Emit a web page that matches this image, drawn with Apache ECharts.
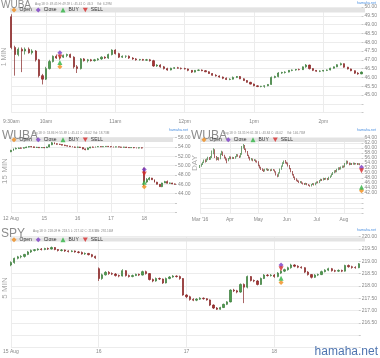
<!DOCTYPE html>
<html><head><meta charset="utf-8">
<script src="https://cdn.jsdelivr.net/npm/echarts@6/dist/echarts.min.js"></script>
<style>html,body{margin:0;padding:0;background:#fff}#c{width:380px;height:358px}</style>
</head><body><div id="c"></div>
<script>
// ---------- DATA ----------
// candle tuples: [open, close, low, high]
// Panel 1: WUBA 1-minute view, Aug 18 (drawn as 3-min candles from 9:30)
const p1Bars = [
[49.45,47.7,47.6,49.59],[47.7,47.3,46.1,47.8],[47.3,47.6,47.2,47.7],[47.6,47.5,46.3,47.7],[47.5,47.6,47.3,47.7],
[47.6,47.4,47.35,47.7],[47.4,47.5,47.3,47.6],[47.5,47.0,46.9,47.55],[47.0,46.1,46.0,47.05],[46.1,45.9,45.6,46.2],
[45.9,46.5,45.85,46.6],[46.5,46.9,46.45,47.0],[46.9,47.2,46.85,47.25],[47.2,47.1,47.05,47.3],[47.1,47.15,47.0,47.25],
[47.15,47.25,47.1,47.3],[47.25,47.3,47.15,47.35],[47.3,47.15,47.1,47.35],[47.15,46.6,46.5,47.2],[46.6,46.5,46.25,46.7],
[46.5,47.05,46.45,47.1],[47.05,46.95,46.9,47.1],[46.95,47.0,46.85,47.05],[47.0,46.95,46.9,47.05],[46.95,47.0,46.9,47.05],
[47.0,47.05,46.95,47.1],[47.05,47.15,47.0,47.2],[47.15,47.1,47.05,47.2],[47.1,47.3,47.05,47.35],[47.3,47.55,47.25,47.6],
[47.55,47.35,47.3,47.6],[47.35,47.15,47.1,47.4],[47.15,47.2,47.1,47.25],[47.2,47.2,47.1,47.25],[47.2,47.1,47.05,47.25],
[47.1,47.05,47.0,47.15],[47.05,47.0,46.95,47.1],[47.0,47.02,46.95,47.05],[47.02,46.98,46.95,47.05],[46.98,47.0,46.95,47.05],
[47.0,46.95,46.9,47.05],[46.95,46.65,46.6,47.0],[46.65,46.7,46.6,46.75],[46.7,46.6,46.55,46.75],[46.6,46.5,46.45,46.65],
[46.5,46.42,46.38,46.55],[46.42,46.52,46.4,46.55],[46.52,46.55,46.48,46.58],[46.55,46.52,46.5,46.6],[46.52,46.5,46.45,46.56],
[46.5,46.48,46.45,46.55],[46.48,46.4,46.35,46.5],[46.4,46.3,46.25,46.42],[46.3,46.4,46.28,46.42],[46.4,46.42,46.36,46.45],
[46.42,46.38,46.35,46.45],[46.38,46.32,46.3,46.42],[46.32,46.22,46.2,46.35],[46.22,46.12,46.1,46.25],[46.12,46.08,46.05,46.18],
[46.08,46.02,45.98,46.12],[46.02,45.95,45.9,46.05],[45.95,45.88,45.85,46.0],[45.88,45.9,45.84,45.95],[45.9,46.0,45.88,46.05],
[46.0,46.05,45.96,46.08],[46.05,45.92,45.9,46.08],[45.92,45.82,45.8,45.95],[45.82,45.72,45.7,45.85],[45.72,45.62,45.6,45.75],
[45.62,45.52,45.5,45.65],[45.52,45.48,45.45,45.55],[45.48,45.5,45.44,45.52],[45.5,45.52,45.41,45.55],[45.52,45.6,45.5,45.62],
[45.6,46.0,45.58,46.05],[46.0,46.05,45.95,46.1],[46.05,46.25,46.0,46.3],[46.25,46.28,46.2,46.32],[46.28,46.3,46.22,46.35],
[46.3,46.4,46.28,46.42],[46.4,46.42,46.35,46.45],[46.42,46.45,46.38,46.48],[46.45,46.44,46.4,46.5],[46.44,46.6,46.42,46.62],
[46.6,46.7,46.55,46.76],[46.7,46.5,46.45,46.72],[46.5,46.4,46.36,46.52],[46.4,46.35,46.32,46.42],[46.35,46.36,46.3,46.4],
[46.36,46.4,46.33,46.42],[46.4,46.42,46.36,46.45],[46.42,46.52,46.4,46.55],[46.52,46.6,46.5,46.62],[46.6,46.72,46.58,46.75],
[46.72,46.78,46.68,46.84],[46.78,46.58,46.55,46.8],[46.58,46.48,46.45,46.6],[46.48,46.38,46.35,46.5],[46.38,46.24,46.2,46.4],
[46.24,46.2,46.15,46.3],[46.2,46.3,46.18,46.34]
];
const p1Ticks = [['09:30','9:30am'],['10:00','10am'],['11:00','11am'],['12:00','12pm'],['13:00','1pm'],['14:00','2pm']];
const p1MarkAt = '10:12';
const p1MarkVals = [46.6, 47.4, 46.84, 47.16]; // Open, Close, BUY, SELL

// Panel 2: WUBA 15-minute view, Aug 12-18 (drawn as 30-min candles)
const p2Days = ['08-12','08-15','08-16','08-17','08-18'];
const p2Bars = [
[53.0,53.3,52.9,53.4],[53.3,53.6,53.2,53.7],[53.6,53.7,53.5,53.9],[53.7,53.8,53.6,53.9],[53.8,53.75,53.65,53.9],
[53.75,53.85,53.7,53.95],[53.85,54.0,53.8,54.1],[54.0,54.1,53.9,54.2],[54.1,54.05,53.95,54.2],[54.05,53.9,53.85,54.1],
[53.9,53.95,53.8,54.05],[53.95,53.85,53.8,54.0],[53.85,53.9,53.8,54.0],
[53.9,53.85,53.75,54.0],[53.85,54.0,53.8,54.1],[54.0,54.5,53.95,54.6],[54.5,54.9,54.4,55.1],[54.9,54.7,54.6,55.0],
[54.7,54.6,54.5,54.8],[54.6,54.55,54.45,54.7],[54.55,54.4,54.35,54.6],[54.4,54.3,54.2,54.5],[54.3,54.2,54.1,54.35],
[54.2,54.1,54.0,54.25],[54.1,54.0,53.95,54.15],[54.0,53.95,53.85,54.1],
[53.95,54.0,53.85,54.1],[54.0,53.9,53.8,54.05],[53.9,53.6,53.5,53.95],[53.6,53.45,53.3,53.7],[53.45,53.8,53.4,53.9],
[53.8,54.0,53.75,54.05],[54.0,53.95,53.9,54.1],[53.95,54.05,53.9,54.1],[54.05,54.1,54.0,54.2],[54.1,54.05,54.0,54.15],
[54.05,54.1,54.0,54.15],[54.1,54.15,54.05,54.2],[54.15,54.1,54.0,54.2],
[54.1,54.05,53.95,54.15],[54.05,54.0,53.9,54.1],[54.0,54.05,53.95,54.1],[54.05,54.0,53.95,54.1],[54.0,53.95,53.9,54.05],
[53.95,54.0,53.9,54.05],[54.0,53.9,53.85,54.05],[53.9,53.85,53.8,53.95],[53.85,53.9,53.8,53.95],[53.9,53.85,53.75,53.95],
[53.85,53.8,53.7,53.9],[53.8,53.85,53.7,53.9],[53.85,53.8,53.7,53.9],
[49.45,46.5,45.6,49.59],[46.5,47.05,46.25,47.35],[47.05,47.35,46.85,47.6],[47.35,47.0,46.95,47.4],[47.0,46.48,46.4,47.05],
[46.48,46.02,45.98,46.55],[46.02,45.52,45.5,46.08],[45.52,46.3,45.41,46.35],[46.3,46.6,46.28,46.76],[46.6,46.24,46.2,46.84],
[46.24,46.3,46.1,46.4],[46.3,46.1,46.05,46.35],[46.1,46.02,45.95,46.2]
];
const p2Ticks = [['08-12 09:30','12 Aug'],['08-15 09:30','15'],['08-16 09:30','16'],['08-17 09:30','17'],['08-18 09:30','18']];
const p2MarkAt = '08-18 09:30';
const p2MarkVals = [45.5, 49.2, 46.45, 48.2];

// Panel 3: WUBA daily, Mar 1 - Aug 18 2016
const p3Start = '2016-03-01', p3End = '2016-08-18';
const p3Holidays = ['2016-03-25','2016-05-30','2016-07-04'];
const p3Bars = [
[52.5,52.8,52.0,53.2],[52.8,53.5,52.5,53.8],[53.5,54.2,53.2,54.5],[54.2,55.0,54.0,55.4],[55.0,54.6,54.2,55.5],
[54.6,55.5,54.4,55.8],[55.5,56.0,55.1,56.5],[56.0,55.6,55.2,56.4],[55.6,56.2,55.3,56.8],[56.2,58.6,56.0,59.0],
[58.6,59.3,57.5,59.9],[59.3,56.5,56.0,59.5],[56.5,55.5,55.0,56.8],[55.5,56.0,55.2,56.4],[56.0,55.6,55.0,56.3],
[55.6,57.5,55.5,57.8],[57.5,58.4,57.2,58.9],[58.4,57.0,56.8,58.6],[57.0,56.2,55.8,57.3],[56.2,55.5,55.0,56.5],
[55.5,55.0,53.9,55.8],[55.0,55.8,54.7,56.0],[55.8,56.3,55.5,56.7],[56.3,55.8,55.5,56.6],[55.8,56.2,55.6,56.5],
[56.2,55.9,55.6,56.4],[55.9,56.5,55.7,56.8],[56.5,57.3,56.3,57.6],[57.3,56.8,56.5,57.5],[56.8,56.3,56.0,57.0],
[56.3,57.5,56.2,58.0],[57.5,60.5,57.3,60.8],[60.5,61.0,59.8,61.58],[61.0,59.5,59.2,61.2],[59.5,58.6,58.2,59.8],
[58.6,57.0,56.8,58.8],[57.0,56.2,55.8,57.3],[56.2,55.3,55.0,56.5],[55.3,55.6,55.0,56.0],[55.6,55.0,54.7,55.8],
[55.0,55.2,54.8,55.6],[55.2,54.6,54.3,55.4],[54.6,54.5,54.1,55.0],[54.5,53.0,52.7,54.7],[53.0,52.2,51.8,53.3],
[52.2,51.6,51.2,52.5],[51.6,51.2,50.8,51.9],[51.2,50.8,50.4,51.5],[50.8,51.4,50.6,51.7],[51.4,51.5,51.1,51.9],
[51.5,51.1,50.8,51.8],[51.1,51.3,50.9,51.6],[51.3,51.0,50.7,51.5],[51.0,51.4,50.8,51.7],[51.4,51.2,50.9,51.6],
[51.2,50.5,50.2,51.4],[50.5,49.3,49.0,50.7],[49.3,48.7,48.3,49.5],[48.7,50.0,48.5,50.3],[50.0,51.5,49.8,51.8],
[51.5,52.7,51.3,53.0],[52.7,54.0,52.5,54.3],[54.0,54.6,53.6,55.0],[54.6,54.2,53.8,55.2],[54.2,54.0,53.5,54.5],
[54.0,53.0,52.6,54.2],[53.0,51.8,51.5,53.2],[51.8,50.6,50.3,52.0],[50.6,49.4,49.0,50.8],[49.4,48.3,48.0,49.6],
[48.3,47.6,47.2,48.6],[47.6,47.0,46.7,47.9],[47.0,46.8,46.4,47.3],[46.8,46.3,46.0,47.0],[46.3,46.5,46.0,46.8],
[46.5,46.0,45.7,46.7],[46.0,45.8,45.4,46.2],[45.8,45.6,45.2,46.0],[45.6,45.9,45.3,46.1],[45.9,45.4,45.1,46.0],
[45.4,45.1,44.8,45.6],[45.1,44.8,44.5,45.3],[44.8,45.4,44.6,45.6],[45.4,45.7,45.2,46.0],[45.7,45.3,45.0,45.9],
[45.3,45.9,45.1,46.2],[45.9,46.4,45.7,46.6],[46.4,46.2,45.9,46.7],[46.2,46.9,46.0,47.2],[46.9,47.4,46.7,47.7],
[47.4,47.1,46.8,47.6],[47.1,47.8,47.0,48.1],[47.8,47.5,47.2,48.0],[47.5,47.8,47.3,48.1],[47.8,47.4,47.1,48.0],
[47.4,48.2,47.2,48.5],[48.2,48.7,48.0,49.0],[48.7,49.5,48.5,49.8],[49.5,50.1,49.2,50.4],[50.1,50.8,49.9,51.1],
[50.8,50.5,50.2,51.2],[50.5,51.4,50.3,51.7],[51.4,52.0,51.1,52.3],[52.0,51.6,51.3,52.3],[51.6,52.3,51.4,52.6],
[52.3,52.7,52.0,53.0],[52.7,52.4,52.1,53.0],[52.4,53.6,52.3,54.0],[53.6,54.7,53.4,55.0],[54.7,54.0,53.7,54.9],
[54.0,53.4,53.1,54.2],[53.4,53.8,53.2,54.1],[53.8,53.5,53.2,54.0],[53.5,53.9,53.3,54.2],[53.9,53.6,53.3,54.1],
[53.6,53.8,53.4,54.0],[53.8,53.5,53.2,54.0],[53.5,53.7,53.3,53.9],[53.7,53.35,53.1,53.9],[51.3,46.02,43.84,51.6]
];
const p3Ticks = [['2016-03-01',"Mar '16"],['2016-04-01','Apr'],['2016-05-02','May'],['2016-06-01','Jun'],['2016-07-01','Jul'],['2016-08-01','Aug']];
const p3MarkAt = '2016-08-18';
const p3MarkVals = [42.9, 52.3, 44.3, 50.9];

// Panel 4: SPY 5-minute view, Aug 15-18 (drawn as 15-min candles)
const p4Days = ['08-15','08-16','08-17','08-18'];
const p4Bars = [
[218.85,218.95,218.8,219.0],[218.95,219.12,218.9,219.15],[219.12,219.18,219.08,219.22],[219.18,219.2,219.12,219.25],[219.2,219.28,219.15,219.3],
[219.28,219.38,219.25,219.42],[219.38,219.44,219.34,219.48],[219.44,219.47,219.4,219.5],[219.47,219.5,219.43,219.53],[219.5,219.48,219.44,219.54],
[219.48,219.52,219.45,219.55],[219.52,219.5,219.46,219.56],[219.5,219.56,219.48,219.6],[219.56,219.48,219.45,219.58],[219.48,219.44,219.4,219.5],
[219.44,219.46,219.4,219.5],[219.46,219.42,219.38,219.48],[219.42,219.4,219.36,219.45],[219.4,219.42,219.37,219.45],[219.42,219.38,219.35,219.44],
[219.38,219.36,219.32,219.42],[219.36,219.3,219.27,219.4],[219.3,219.32,219.26,219.36],[219.32,219.27,219.24,219.34],[219.27,219.2,219.16,219.3],
[219.2,219.14,219.1,219.23],
[218.7,218.3,218.2,218.75],[218.3,218.45,218.25,218.5],[218.45,218.55,218.42,218.6],[218.55,218.5,218.45,218.6],[218.5,218.48,218.44,218.55],
[218.48,218.42,218.38,218.52],[218.42,218.4,218.35,218.46],[218.4,218.62,218.38,218.68],[218.62,218.42,218.38,218.64],[218.42,218.38,218.34,218.46],
[218.38,218.42,218.35,218.46],[218.42,218.47,218.4,218.5],[218.47,218.44,218.4,218.5],[218.44,218.58,218.42,218.62],[218.58,218.5,218.46,218.62],
[218.5,218.26,218.22,218.52],[218.26,218.2,218.15,218.3],[218.2,218.3,218.17,218.34],[218.3,218.28,218.24,218.34],[218.28,218.12,218.08,218.3],
[218.12,218.3,218.1,218.34],[218.3,218.36,218.27,218.4],[218.36,218.4,218.33,218.44],[218.4,218.38,218.34,218.43],[218.38,218.3,218.25,218.42],
[218.3,217.63,217.6,218.32],
[217.63,217.56,217.5,217.66],[217.56,217.45,217.4,217.6],[217.45,217.42,217.38,217.5],[217.42,217.46,217.38,217.5],[217.46,217.5,217.43,217.54],
[217.5,217.48,217.44,217.53],[217.48,217.43,217.4,217.5],[217.43,217.22,217.18,217.45],[217.22,217.1,217.06,217.25],[217.1,217.05,217.02,217.14],
[217.05,217.12,217.03,217.15],[217.12,217.25,217.1,217.28],[217.25,217.35,217.22,217.38],[217.35,217.83,217.33,217.86],[217.83,217.8,217.75,217.88],
[217.8,217.75,217.7,217.84],[217.75,218.06,217.72,218.1],[218.06,217.95,217.3,218.1],[217.95,218.38,217.9,218.42],[218.38,218.22,218.18,218.4],
[218.22,218.2,218.15,218.26],[218.2,218.06,218.02,218.24],[218.06,218.3,218.04,218.34],[218.3,218.44,218.28,218.48],[218.44,218.42,218.38,218.48],
[218.42,218.44,218.38,218.48],
[218.44,218.38,218.33,218.48],[218.38,218.52,218.35,218.56],[218.52,218.6,218.48,218.64],[218.6,218.66,218.56,218.7],[218.66,218.74,218.62,218.78],
[218.74,218.85,218.7,218.9],[218.85,218.8,218.76,218.88],[218.8,218.76,218.72,218.84],[218.76,218.74,218.7,218.8],[218.74,218.56,218.52,218.76],
[218.56,218.46,218.42,218.6],[218.46,218.35,218.3,218.48],[218.35,218.44,218.32,218.48],[218.44,218.46,218.4,218.5],[218.46,218.58,218.44,218.62],
[218.58,218.64,218.55,218.68],[218.64,218.7,218.6,218.74],[218.7,218.62,218.58,218.73],[218.62,218.6,218.56,218.66],[218.6,218.63,218.57,218.67],
[218.63,218.6,218.56,218.66],[218.6,218.83,218.58,218.86],[218.83,218.78,218.74,218.87],[218.78,218.75,218.7,218.82],[218.75,218.74,218.7,218.8],
[218.74,218.9,218.72,218.93]
];
const p4Ticks = [['08-15 09:30','15 Aug'],['08-16 09:30','16'],['08-17 09:30','17'],['08-18 09:30','18']];
const p4MarkAt = '08-18 10:00';
const p4MarkVals = [218.14, 218.85, 218.31, 218.7];

const markerNames = ['Open','Close','BUY','SELL'];
const panelTitles = ['WUBA','WUBA','WUBA','SPY'];
const panelPeriods = ['1 MIN','15 MIN','DAY','5 MIN'];
const panelInfo = [
  'Aug 18 O: 49.45 H: 49.59 L: 45.41 C: 46.3',
  'Aug 18 O: 53.86 H: 55.89 L: 45.41 C: 46.02',
  'Aug 18 O: 53.35 H: 61.58 L: 43.84 C: 46.02',
  'Aug 18 O: 218.09 H: 218.5 L: 217.02 C: 218.57'
];
const panelVol = ['Vol: 6.29M','Vol: 18.73M','Vol: 146.73M','Vol: 292.16M'];

// ---------- CATEGORY BUILDERS ----------
const pad = n => (n < 10 ? '0' : '') + n;
const hm = m => pad(Math.floor(m / 60)) + ':' + pad(m % 60);
const p1Cats = p1Bars.map((_, i) => hm(570 + 3 * i));
const p2Cats = [];
p2Days.forEach(d => { for (let s = 0; s < 13; s++) p2Cats.push(d + ' ' + hm(570 + 30 * s)); });
const p4Cats = [];
p4Days.forEach(d => { for (let s = 0; s < 26; s++) p4Cats.push(d + ' ' + hm(570 + 15 * s)); });
const p3Cats = [];
for (let t = new Date(p3Start + 'T00:00:00Z'); t <= new Date(p3End + 'T00:00:00Z'); t = new Date(t.getTime() + 86400000)) {
  const s = t.toISOString().slice(0, 10), wd = t.getUTCDay();
  if (wd !== 0 && wd !== 6 && p3Holidays.indexOf(s) < 0) p3Cats.push(s);
}

// ---------- STYLE / LAYOUT ----------
const FONT = '"Liberation Sans", Arial, sans-serif';
const markerSymbols = ['diamond','diamond','triangle','path://M0,0L10,0L5,9Z'];
const markerColors = ['#f08c1a','#7a3cc4','#2fb344','#d42a2a'];
const panels = [
  {grid:{left:10, top:7, width:355, height:105.6}, cats:p1Cats, bars:p1Bars, ticks:p1Ticks, ymin:44, ymax:50, step:0.5, showFrom:45, lm:7, bw:1.6, markAt:p1MarkAt, marks:p1MarkVals},
  {grid:{left:10, top:137.7, width:165, height:74.7}, cats:p2Cats, bars:p2Bars, ticks:p2Ticks, ymin:40, ymax:56, step:2, showFrom:44, lm:4, bw:1.4, markAt:p2MarkAt, marks:p2MarkVals},
  {grid:{left:200, top:138, width:165, height:75}, cats:p3Cats, bars:p3Bars, ticks:p3Ticks, ymin:34, ymax:64, step:2, showFrom:42, lm:4, bw:1, markAt:p3MarkAt, marks:p3MarkVals},
  {grid:{left:10, top:236.7, width:355, height:110.7}, cats:p4Cats, bars:p4Bars, ticks:p4Ticks, ymin:215.5, ymax:220, step:0.5, showFrom:216.5, lm:2, bw:1.8, markAt:p4MarkAt, marks:p4MarkVals}
];
const legendBars = [[10,8,355,4.6],[10,137.6,163,4.3],[200,137.6,165,4.3],[10,237.6,355,4]];
const titlePos = [[1,5,10],[2,136,12],[191,136,12],[1,233.5,12]];
const infoPos = [[35,4,97],[32,133,93],[223,133,287],[33,231,95]];
const netPos = [[376,3],[188,130],[376,130],[376,230]];
const periodPos = [[4,57,7],[5,171,8],[195,163,8],[5,288,8]];
const INFO_FS = 3.1;

const grid = [], xAxis = [], yAxis = [], series = [], legend = [], graphic = [];
panels.forEach((p, k) => {
  const tickMap = new Map(p.ticks);
  grid.push(Object.assign({containLabel:false}, p.grid));
  xAxis.push({
    type:'category', gridIndex:k, data:p.cats, boundaryGap:false,
    axisLine:{show:false}, axisTick:{show:false},
    axisLabel:{interval:(i, v) => tickMap.has(v), formatter:v => tickMap.get(v) || '', fontSize:5, color:'#888', margin:p.lm, fontFamily:FONT},
    splitLine:{show:true, interval:(i, v) => tickMap.has(v), lineStyle:{color:'#ececec', width:1}}
  });
  yAxis.push({
    type:'value', gridIndex:k, position:'right', min:p.ymin, max:p.ymax, interval:p.step,
    axisLine:{show:false}, axisTick:{show:true, length:2, lineStyle:{color:'#c8c8c8'}},
    axisLabel:{fontSize:5, color:'#888', margin:3, fontFamily:FONT,
      formatter:v => (v < p.showFrom - 1e-6 ? '' : v.toFixed(2))},
    splitLine:{show:true, lineStyle:{color:'#ececec', width:1}}
  });
  series.push({
    type:'candlestick', name:'price' + k, xAxisIndex:k, yAxisIndex:k, data:p.bars, barWidth:p.bw,
    itemStyle:{color:'#4e9e4e', color0:'#a83232', borderColor:'#3a7a3a', borderColor0:'#842424', borderWidth:0.7},
    z:2
  });
  markerNames.forEach((n, j) => {
    series.push({
      type:'scatter', name:n, xAxisIndex:k, yAxisIndex:k, symbol:markerSymbols[j], symbolSize:5,
      itemStyle:{color:markerColors[j]}, data:[[p.markAt, p.marks[j]]], z:6
    });
  });
  const lb = legendBars[k];
  graphic.push({type:'rect', shape:{x:lb[0], y:lb[1], width:lb[2], height:lb[3]}, style:{fill:'#e3e3e3'}, z:3, silent:true});
  legend.push({
    left:lb[0] + 1.5, top:lb[1] - 0.4, itemWidth:5, itemHeight:5, itemGap:4, padding:0, selectedMode:false,
    textStyle:{fontSize:5, color:'#333', fontFamily:FONT, padding:[0,0,0,-2]},
    data:markerNames.map((n, j) => ({name:n, icon:markerSymbols[j]})), z:10
  });
  const tp = titlePos[k];
  graphic.push({type:'text', x:tp[0], y:tp[1], style:{text:panelTitles[k], fontSize:tp[2], fill:'#8c8c8c', fontFamily:FONT, verticalAlign:'middle', align:'left'}, z:10});
  const ip = infoPos[k];
  graphic.push({type:'text', x:ip[0], y:ip[1], style:{text:panelInfo[k], fontSize:INFO_FS, fill:'#8a8a8a', fontFamily:FONT, verticalAlign:'middle'}, z:10});
  graphic.push({type:'text', x:ip[2], y:ip[1], style:{text:panelVol[k], fontSize:INFO_FS, fill:'#8a8a8a', fontFamily:FONT, verticalAlign:'middle'}, z:10});
  const np = netPos[k];
  graphic.push({type:'text', x:np[0], y:np[1], style:{text:'hamaha.net', fontSize:3.6, fill:'#4a8fe0', fontFamily:FONT, align:'right', verticalAlign:'middle'}, z:10});
  const pp = periodPos[k];
  graphic.push({type:'text', x:pp[0], y:pp[1], rotation:Math.PI / 2, style:{text:panelPeriods[k], fontSize:pp[2], fill:'#a8a8a8', fontFamily:FONT, align:'center', verticalAlign:'middle'}, z:10});
});
graphic.push({type:'text', x:378, y:352, style:{text:'hamaha.net', fontSize:12, fill:'#4f75b0', fontFamily:FONT, align:'right', verticalAlign:'middle'}, z:10});

const chart = echarts.init(document.getElementById('c'), null, {renderer:'canvas'});
chart.setOption({
  animation:false, backgroundColor:'#ffffff',
  grid, xAxis, yAxis, series, legend, graphic
});
</script>
</body></html>
